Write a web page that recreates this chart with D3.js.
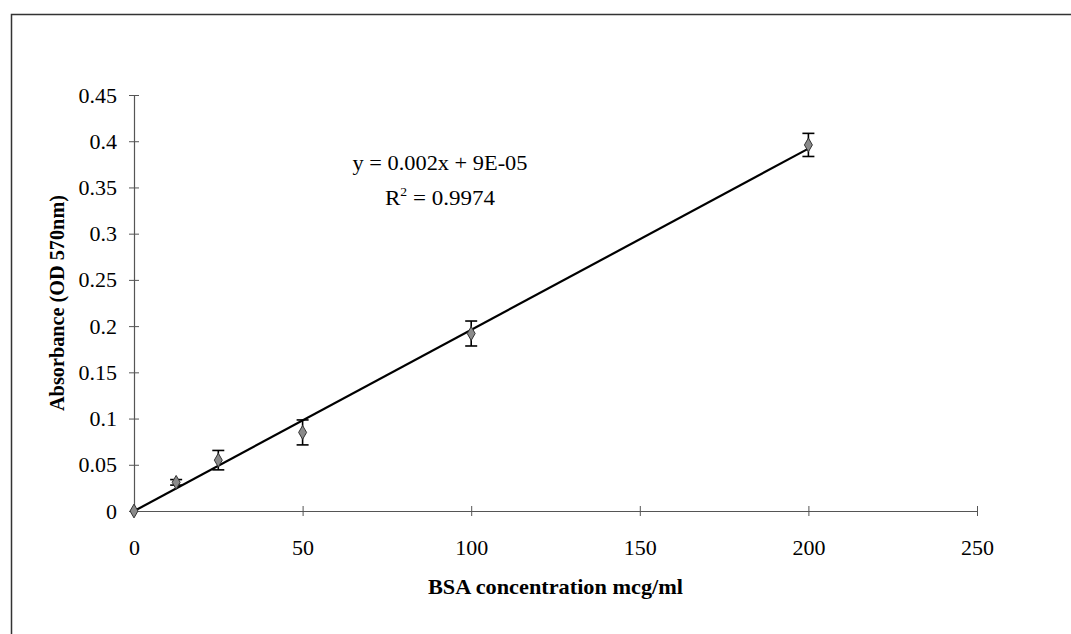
<!DOCTYPE html>
<html>
<head>
<meta charset="utf-8">
<script src="https://cdn.jsdelivr.net/npm/d3@7"></script>
<style>
  html, body { margin: 0; padding: 0; background: #fff; }
  svg { display: block; }
  text { font-family: "Liberation Serif", "Times New Roman", serif; fill: #000; }
</style>
</head>
<body>
<svg id="chart" width="1071" height="634"></svg>
<script>
// ---- data ----
const concentrations = [0, 12.5, 25, 50, 100, 200];
const absorbance = [0, 0.031, 0.055, 0.085, 0.192, 0.396];
const errors = [0.001, 0.003, 0.0105, 0.0135, 0.0135, 0.0125];
const xTicks = [0, 50, 100, 150, 200, 250];
const yTicks = [0, 0.05, 0.1, 0.15, 0.2, 0.25, 0.3, 0.35, 0.4, 0.45];
const xTitle = "BSA concentration mcg/ml";
const yTitle = "Absorbance (OD 570nm)";
const eqLine1 = "y = 0.002x + 9E-05";
const r2Value = "0.9974";

// ---- layout ----
const svg = d3.select("#chart");
const W = 1071, H = 634;
const plot = { left: 134, right: 977, top: 95, bottom: 511 };

// chart frame (top and left visible)
svg.append("rect").attr("x", 11.5).attr("y", 14.5)
  .attr("width", W + 10).attr("height", H + 10)
  .attr("fill", "none").attr("stroke", "#333").attr("stroke-width", 1.5);

const x = d3.scaleLinear().domain([0, 250]).range([plot.left, plot.right]);
const y = d3.scaleLinear().domain([0, 0.45]).range([plot.bottom, plot.top]);

// axes
const xAxis = d3.axisBottom(x).tickValues(xTicks).tickSizeInner(5).tickSizeOuter(0).tickFormat(d3.format("d"));
const yAxis = d3.axisLeft(y).tickValues(yTicks).tickSizeInner(5).tickSizeOuter(0)
  .tickFormat(d => d === 0 ? "0" : String(+d.toFixed(2)));

const gx = svg.append("g").attr("transform", `translate(0,${plot.bottom})`).call(xAxis);
const gy = svg.append("g").attr("transform", `translate(${plot.left},0)`).call(yAxis);

[gx, gy].forEach(g => {
  g.select(".domain").attr("stroke", "#555").attr("stroke-width", 1.2);
  g.selectAll(".tick line").attr("stroke", "#555").attr("stroke-width", 1);
  g.selectAll("text").attr("font-family", "Liberation Serif, serif").attr("font-size", 22).attr("fill", "#000");
});
// ticks cross the axis
gx.selectAll(".tick line").attr("y1", -5).attr("y2", 5);
gx.selectAll(".tick text").attr("y", 28);
gy.selectAll(".tick line").attr("x1", -5).attr("x2", 5);
gy.selectAll(".tick text").attr("x", -17);

// axis titles
svg.append("text").attr("x", (plot.left + plot.right) / 2 + 0).attr("y", 594)
  .attr("text-anchor", "middle").attr("font-size", 21).attr("font-weight", "bold")
  .attr("textLength", 255).attr("lengthAdjust", "spacingAndGlyphs")
  .text(xTitle);
svg.append("text").attr("transform", `translate(64,${(plot.top + plot.bottom) / 2 + 0}) rotate(-90)`)
  .attr("text-anchor", "middle").attr("font-size", 21).attr("font-weight", "bold")
  .attr("textLength", 216).attr("lengthAdjust", "spacingAndGlyphs")
  .text(yTitle);

// linear regression from data
const n = concentrations.length;
const mx = d3.mean(concentrations), my = d3.mean(absorbance);
let sxy = 0, sxx = 0;
for (let i = 0; i < n; i++) { sxy += (concentrations[i] - mx) * (absorbance[i] - my); sxx += (concentrations[i] - mx) ** 2; }
const slope = sxy / sxx, intercept = my - slope * mx;
const xExt = d3.extent(concentrations);
svg.append("line")
  .attr("x1", x(xExt[0])).attr("y1", y(slope * xExt[0] + intercept))
  .attr("x2", x(xExt[1])).attr("y2", y(slope * xExt[1] + intercept))
  .attr("stroke", "#000").attr("stroke-width", 2.2);

// error bars
const pts = concentrations.map((c, i) => ({ c, a: absorbance[i], e: errors[i] }));
const eb = svg.append("g").attr("stroke", "#000").attr("stroke-width", 1.6);
pts.forEach(p => {
  if (p.e < 0.002) return;
  eb.append("line").attr("x1", x(p.c)).attr("x2", x(p.c)).attr("y1", y(p.a - p.e)).attr("y2", y(p.a + p.e));
  [p.a - p.e, p.a + p.e].forEach(v => {
    eb.append("line").attr("x1", x(p.c) - 6).attr("x2", x(p.c) + 6).attr("y1", y(v)).attr("y2", y(v));
  });
});

// markers (diamonds)
const sym = d3.symbol().type(d3.symbolDiamond).size(55);
svg.append("g").selectAll("path").data(pts).join("path")
  .attr("d", sym)
  .attr("transform", d => `translate(${x(d.c)},${y(d.a)})`)
  .attr("fill", "#8a8a8a").attr("stroke", "#333").attr("stroke-width", 1);

// equation
svg.append("text").attr("x", 440).attr("y", 170).attr("text-anchor", "middle")
  .attr("font-size", 22).attr("textLength", 175).attr("lengthAdjust", "spacingAndGlyphs")
  .text(eqLine1);
const r2 = svg.append("text").attr("x", 440).attr("y", 205).attr("text-anchor", "middle")
  .attr("font-size", 22).attr("textLength", 110).attr("lengthAdjust", "spacingAndGlyphs");
r2.append("tspan").text("R");
r2.append("tspan").attr("dy", -9).attr("font-size", 13).text("2");
r2.append("tspan").attr("dy", 9).text(" = " + r2Value);
</script>
</body>
</html>
